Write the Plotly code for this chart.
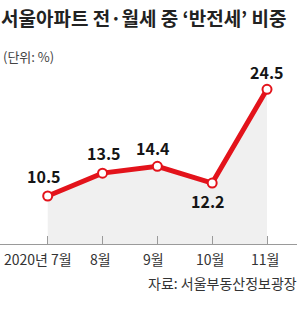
import plotly.graph_objects as go

months = ["2020년 7월", "8월", "9월", "10월", "11월"]
values = [10.5, 13.5, 14.4, 12.2, 24.5]

title_text = "서울아파트 전·월세 중 ‘반전세’ 비중"
unit_text = "(단위: %)"
source_text = "자료: 서울부동산정보광장"

FONT = "Noto Sans CJK KR"
RED = "#e3131b"

x = list(range(len(months)))

fig = go.Figure()
fig.add_trace(go.Scatter(
    x=x, y=values, mode="lines+markers",
    line=dict(color=RED, width=5),
    marker=dict(size=9, color="white", line=dict(color=RED, width=2)),
    fill="tozeroy", fillcolor="#f0f0f0",
    hoverinfo="skip",
))

label_shift = [(-4, 20), (1, 20), (-4, 18), (-4, -18), (0, 17)]
annotations = []
for i, v in enumerate(values):
    dx, dy = label_shift[i]
    annotations.append(dict(
        x=i, y=v, xref="x", yref="y", text=f"{v:.1f}", showarrow=False,
        xshift=dx, yshift=dy, xanchor="center", yanchor="middle",
        font=dict(family=FONT, size=16, color="#151515", weight="bold"),
    ))

tick_shift = [-10, -2, -4, -2, -2]
for i, m in enumerate(months):
    annotations.append(dict(
        x=i, y=0, xref="x", yref="paper", text=m, showarrow=False,
        xshift=tick_shift[i], yshift=-3, xanchor="center", yanchor="top",
        font=dict(family=FONT, size=14, color="#333333"),
    ))

annotations.append(dict(
    x=0, y=1, xref="paper", yref="paper", text=f"<b>{title_text}</b>",
    showarrow=False, xanchor="left", yanchor="top", xshift=-1, yshift=78,
    font=dict(family=FONT, size=19, color="#222222"),
))
annotations.append(dict(
    x=0, y=1, xref="paper", yref="paper", text=unit_text,
    showarrow=False, xanchor="left", yanchor="top", xshift=1, yshift=35,
    font=dict(family=FONT, size=13, color="#444444"),
))
annotations.append(dict(
    x=1, y=0, xref="paper", yref="paper", text=source_text,
    showarrow=False, xanchor="right", yanchor="top", xshift=2, yshift=-27,
    font=dict(family=FONT, size=14, color="#333333"),
))

fig.update_layout(
    width=300, height=321,
    margin=dict(l=0, r=3, t=80, b=77),
    paper_bgcolor="white", plot_bgcolor="white",
    showlegend=False,
    annotations=annotations,
    xaxis=dict(
        range=[-0.87, 4.547], showgrid=False, zeroline=False,
        showline=True, linecolor="#9a9a9a", linewidth=1,
        tickvals=x, ticktext=[""] * len(x),
        ticks="inside", ticklen=8, tickcolor="#9a9a9a", tickwidth=1,
        fixedrange=True,
    ),
    yaxis=dict(
        range=[4.2, 25.72], showgrid=False, zeroline=False,
        showline=False, showticklabels=False, fixedrange=True,
    ),
)

fig.write_html("out.html")
